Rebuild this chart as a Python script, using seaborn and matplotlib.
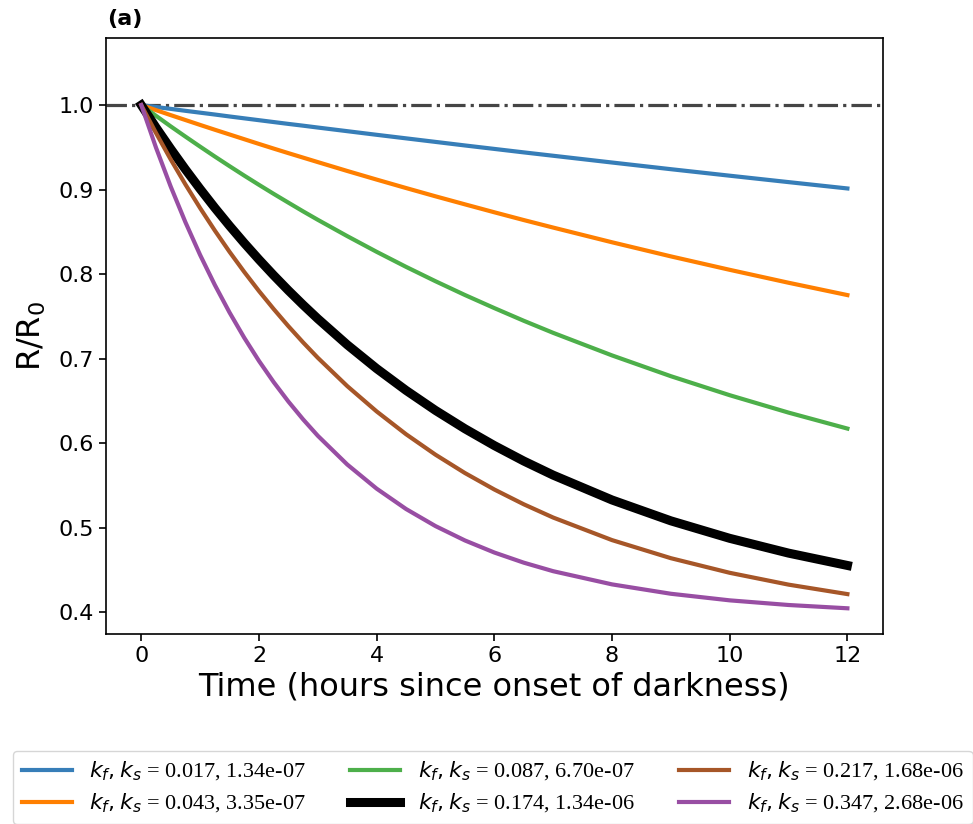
import matplotlib
matplotlib.use("Agg")
import matplotlib.pyplot as plt
import seaborn as sns
import pandas as pd

# Time axis (hours since onset of darkness)
hours = [0, 0.25, 0.5, 0.75, 1, 1.25, 1.5, 1.75, 2, 2.25, 2.5, 2.75, 3, 3.5, 4,
         4.5, 5, 5.5, 6, 6.5, 7, 8, 9, 10, 11, 12]

# Rate constant pairs used in the legend
kf_values = ["0.017", "0.043", "0.087", "0.174", "0.217", "0.347"]
ks_values = ["1.34e-07", "3.35e-07", "6.70e-07", "1.34e-06", "1.68e-06", "2.68e-06"]

# Normalised response R/R0 for each parameter pair
ratio_kf017 = [1.000, 0.9977, 0.9955, 0.9932, 0.9910, 0.9888, 0.9865, 0.9843, 0.9821,
               0.9799, 0.9777, 0.9756, 0.9734, 0.9691, 0.9648, 0.9606, 0.9564, 0.9522,
               0.9481, 0.9440, 0.9400, 0.9320, 0.9241, 0.9164, 0.9088, 0.9013]
ratio_kf043 = [1.000, 0.9940, 0.9881, 0.9823, 0.9765, 0.9708, 0.9652, 0.9596, 0.9540,
               0.9485, 0.9431, 0.9378, 0.9325, 0.9220, 0.9118, 0.9018, 0.8920, 0.8825,
               0.8731, 0.8639, 0.8550, 0.8376, 0.8209, 0.8050, 0.7897, 0.7751]
ratio_kf087 = [1.000, 0.9873, 0.9748, 0.9627, 0.9508, 0.9391, 0.9277, 0.9165, 0.9056,
               0.8949, 0.8845, 0.8742, 0.8642, 0.8449, 0.8263, 0.8085, 0.7915, 0.7752,
               0.7597, 0.7447, 0.7304, 0.7037, 0.6791, 0.6566, 0.6360, 0.6171]
ratio_kf174 = [1.000, 0.9735, 0.9482, 0.9239, 0.9007, 0.8784, 0.8571, 0.8367, 0.8172,
               0.7985, 0.7806, 0.7635, 0.7471, 0.7163, 0.6881, 0.6623, 0.6386, 0.6169,
               0.5970, 0.5787, 0.5620, 0.5326, 0.5079, 0.4872, 0.4697, 0.4551]
ratio_kf217 = [1.000, 0.9670, 0.9357, 0.9061, 0.8781, 0.8515, 0.8263, 0.8025, 0.7799,
               0.7586, 0.7383, 0.7191, 0.7009, 0.6674, 0.6374, 0.6104, 0.5862, 0.5645,
               0.5450, 0.5275, 0.5118, 0.4851, 0.4637, 0.4464, 0.4324, 0.4212]
ratio_kf347 = [1.000, 0.9497, 0.9036, 0.8614, 0.8226, 0.7871, 0.7545, 0.7246, 0.6972,
               0.6721, 0.6491, 0.6280, 0.6086, 0.5746, 0.5460, 0.5219, 0.5017, 0.4847,
               0.4704, 0.4584, 0.4483, 0.4327, 0.4216, 0.4138, 0.4083, 0.4044]

series = [ratio_kf017, ratio_kf043, ratio_kf087, ratio_kf174, ratio_kf217, ratio_kf347]
colors = ["#377eb8", "#ff7f00", "#4daf4a", "black", "#a65628", "#984ea3"]
widths = [3.0, 3.0, 3.0, 6.5, 3.0, 3.0]

labels = [rf"$k_f, k_s$ = {kf}, {ks}" for kf, ks in zip(kf_values, ks_values)]

frames = []
for lab, vals in zip(labels, series):
    frames.append(pd.DataFrame({"hours": hours, "ratio": vals, "label": lab}))
df = pd.concat(frames, ignore_index=True)

sns.set_style("ticks")
plt.rcParams["font.family"] = ["DejaVu Sans"]
plt.rcParams["lines.solid_capstyle"] = "projecting"
plt.rcParams["text.color"] = "black"
plt.rcParams["axes.labelcolor"] = "black"
plt.rcParams["xtick.color"] = "black"
plt.rcParams["ytick.color"] = "black"

fig = plt.figure(figsize=(9.73, 8.24), dpi=100)
ax = fig.add_axes([0.1089, 0.2302, 0.7983, 0.7233])

ax.axhline(1.0, color="0.27", lw=2.3, ls="-.", zorder=1)

for lab, col, lw in zip(labels, colors, widths):
    sub = df[df["label"] == lab]
    sns.lineplot(data=sub, x="hours", y="ratio", color=col, linewidth=lw,
                 label=lab, ax=ax, solid_capstyle="projecting", zorder=2)

ax.set_xlim(-0.6, 12.6)
ax.set_ylim(0.3736, 1.079)
ax.set_xticks([0, 2, 4, 6, 8, 10, 12])
ax.set_yticks([0.4, 0.5, 0.6, 0.7, 0.8, 0.9, 1.0])
ax.tick_params(labelsize=16, length=5, width=1.2, color="black", labelcolor="black")
for sp in ax.spines.values():
    sp.set_color("black")
    sp.set_linewidth(1.2)

ax.set_xlabel("Time (hours since onset of darkness)", fontsize=23, color="black")
ax.set_ylabel(r"R/R$_0$", fontsize=23, color="black", labelpad=8)
ax.text(0.002, 1.015, "(a)", transform=ax.transAxes, fontsize=16,
        fontweight="bold", ha="left", va="bottom", color="black")

handles, labs = ax.get_legend_handles_labels()
ax.get_legend().remove()
leg = fig.legend(handles, labs, ncol=3, loc="upper left",
                 bbox_to_anchor=(0.013, 0.0886), borderaxespad=0,
                 prop={"family": "Liberation Serif", "size": 16},
                 labelspacing=0.4, columnspacing=2.0, handlelength=2.25,
                 handletextpad=0.8, frameon=True, edgecolor="0.8")
for t in leg.get_texts():
    t.set_color("black")

fig.savefig("out.png", dpi=100, facecolor="white")
